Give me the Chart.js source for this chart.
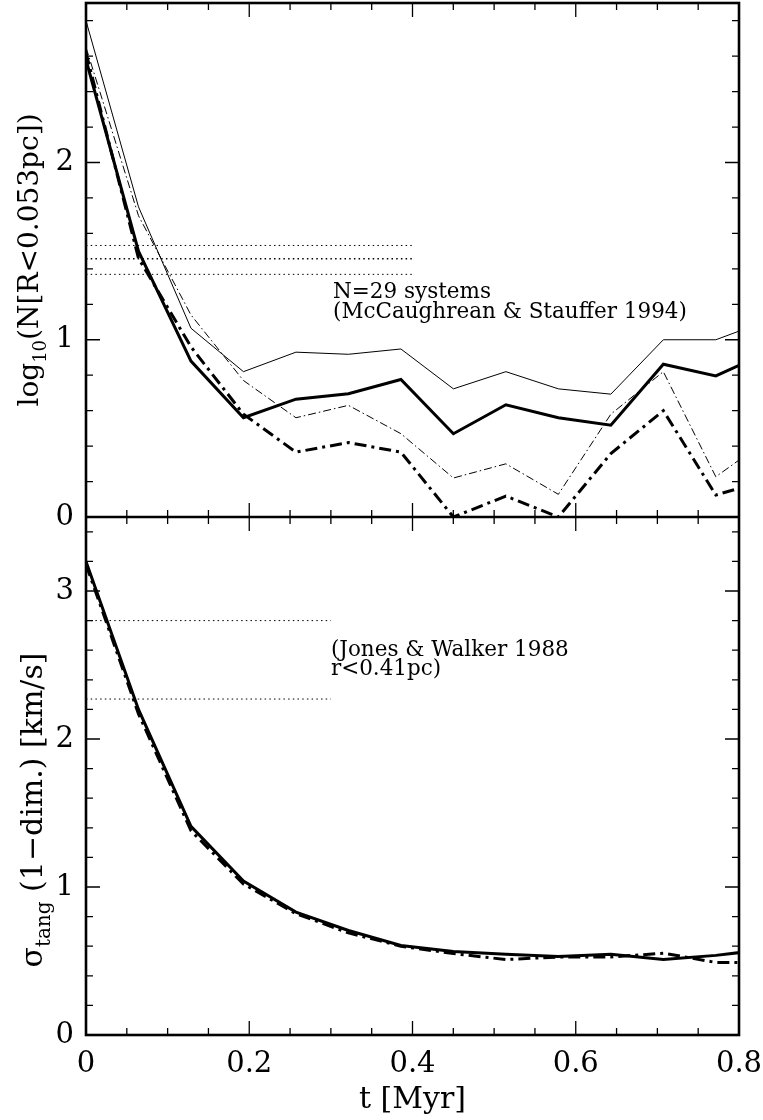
<!DOCTYPE html>
<html>
<head>
<meta charset="utf-8">
<script src="https://cdn.jsdelivr.net/npm/chart.js@4.4.1/dist/chart.umd.min.js"></script>
<style>
  html, body { margin: 0; padding: 0; background: #fff; }
  #wrap { width: 763px; height: 1120px; position: relative; }
</style>
</head>
<body>
<div id="wrap"><canvas id="chart" width="763" height="1120"></canvas></div>
<script>
// snapshot times [Myr]
const times = [0, 0.0643, 0.1286, 0.1929, 0.2572, 0.3215, 0.3858, 0.4501, 0.5144, 0.5787, 0.643, 0.7073, 0.7716, 0.8359];

// top panel: log10 N[R<0.053pc]
const nThin      = [2.80, 1.75, 1.065, 0.82, 0.93, 0.918, 0.948, 0.723, 0.82, 0.723, 0.693, 1.00, 1.00, 1.11];
const nThick     = [2.58, 1.50, 0.88, 0.56, 0.665, 0.695, 0.776, 0.47, 0.633, 0.56, 0.518, 0.862, 0.796, 0.93];
const nThinDash  = [2.65, 1.70, 1.14, 0.77, 0.56, 0.63, 0.47, 0.22, 0.30, 0.128, 0.58, 0.82, 0.227, 0.44];
const nThickDash = [2.62, 1.46, 0.96, 0.58, 0.366, 0.42, 0.366, 0.0, 0.118, 0.0, 0.358, 0.60, 0.124, 0.21];

// bottom panel: sigma_tang [km/s]
const sigSolid = [3.20, 2.20, 1.41, 1.04, 0.83, 0.706, 0.605, 0.565, 0.545, 0.53, 0.545, 0.51, 0.538, 0.58];
const sigDash  = [3.18, 2.17, 1.38, 1.02, 0.82, 0.69, 0.60, 0.55, 0.51, 0.527, 0.527, 0.553, 0.49, 0.49];

// observed ranges (dotted)
const obsTop = [1.532, 1.457, 1.369];
const obsTopEnd = 0.4;
const obsBottom = [2.80, 2.27];
const obsBottomEnd = 0.3;

const xTicks = [0, 0.2, 0.4, 0.6, 0.8];

const serif = '"DejaVu Serif", serif';

function pts(ys) {
  return times.map((t, i) => ({ x: t, y: ys[i] }));
}
function line(ys, axis, width, dash) {
  return {
    data: pts(ys), yAxisID: axis, borderColor: '#000', borderWidth: width,
    borderDash: dash, pointRadius: 0, tension: 0, fill: false
  };
}
function dotted(y, end, axis, width) {
  return {
    data: [{ x: 0, y: y }, { x: end, y: y }], yAxisID: axis, borderColor: '#000',
    borderWidth: width, borderDash: [1.5, 3.2], pointRadius: 0, fill: false
  };
}

const datasets = [
  line(nThin, 'yt', 1, []),
  line(nThick, 'yt', 3, []),
  line(nThinDash, 'yt', 1, [8, 3, 1.5, 3]),
  line(nThickDash, 'yt', 3, [12, 5, 3, 5]),
  dotted(obsTop[0], obsTopEnd, 'yt', 1),
  dotted(obsTop[1], obsTopEnd, 'yt', 1.6),
  dotted(obsTop[2], obsTopEnd, 'yt', 1),
  line(sigSolid, 'yb', 3, []),
  line(sigDash, 'yb', 3, [12, 5, 3, 5]),
  dotted(obsBottom[0], obsBottomEnd, 'yb', 1),
  dotted(obsBottom[1], obsBottomEnd, 'yb', 1)
];

// frame with inward ticks on all sides
const frame = {
  id: 'frame',
  afterDatasetsDraw(chart) {
    const { ctx, chartArea: a, scales } = chart;
    const x = scales.x, yt = scales.yt, yb = scales.yb;
    const mid = yt.bottom;
    ctx.save();
    ctx.strokeStyle = '#000';
    ctx.lineWidth = 1.3;
    ctx.beginPath();
    for (const s of [yt, yb]) {
      for (let i = 0; i * 0.2 <= s.max + 1e-9; i++) {
        const v = i * 0.2;
        const len = Math.abs(v - Math.round(v)) < 1e-9 ? 14 : 7;
        const py = s.getPixelForValue(v);
        ctx.moveTo(a.left, py); ctx.lineTo(a.left + len, py);
        ctx.moveTo(a.right, py); ctx.lineTo(a.right - len, py);
      }
    }
    for (let i = 0; i <= 16; i++) {
      const px = x.getPixelForValue(i * 0.05);
      const len = i % 4 === 0 ? 14 : 7;
      ctx.moveTo(px, a.top); ctx.lineTo(px, a.top + len);
      ctx.moveTo(px, mid - len); ctx.lineTo(px, mid + len);
      ctx.moveTo(px, a.bottom); ctx.lineTo(px, a.bottom - len);
    }
    ctx.stroke();
    ctx.lineWidth = 2.6;
    ctx.strokeRect(a.left, a.top, a.right - a.left, a.bottom - a.top);
    ctx.beginPath();
    ctx.moveTo(a.left, mid); ctx.lineTo(a.right, mid);
    ctx.stroke();
    ctx.restore();
  }
};

// rotated title with a subscript part
function vTitle(ctx, parts, bx, cy, size) {
  ctx.save();
  ctx.translate(bx, cy);
  ctx.rotate(-Math.PI / 2);
  ctx.textBaseline = 'alphabetic';
  ctx.textAlign = 'left';
  let total = 0;
  for (const p of parts) {
    ctx.font = (p.sub ? Math.round(size * 0.65) : size) + 'px ' + serif;
    p.w = ctx.measureText(p.t).width;
    total += p.w;
  }
  let px = -total / 2;
  for (const p of parts) {
    ctx.font = (p.sub ? Math.round(size * 0.65) : size) + 'px ' + serif;
    ctx.fillText(p.t, px, p.sub ? 8 : 0);
    px += p.w;
  }
  ctx.restore();
}

const labels = {
  id: 'labels',
  afterDraw(chart) {
    const { ctx, scales } = chart;
    const x = scales.x, yt = scales.yt, yb = scales.yb;
    ctx.save();
    ctx.fillStyle = '#000';
    ctx.font = '21.5px ' + serif;
    ctx.textAlign = 'left';
    ctx.textBaseline = 'alphabetic';
    const ax = x.getPixelForValue(0.3026);
    ctx.fillText('N=29 systems', ax, yt.getPixelForValue(1.234));
    ctx.fillText('(McCaughrean & Stauffer 1994)', ax, yt.getPixelForValue(1.121));
    const bx = x.getPixelForValue(0.3);
    ctx.fillText('(Jones & Walker 1988', bx, yb.getPixelForValue(2.56));
    ctx.fillText('r<0.41pc)', bx, yb.getPixelForValue(2.43));

    vTitle(ctx, [{ t: 'log' }, { t: '10', sub: true }, { t: '(N[R<0.053pc])' }], 38, 260, 28);
    vTitle(ctx, [{ t: 'σ' }, { t: 'tang', sub: true }, { t: ' (1−dim.) [km/s]' }], 42, 810, 30);

    ctx.font = '30px ' + serif;
    ctx.textAlign = 'center';
    ctx.fillText('t [Myr]', (chart.chartArea.left + chart.chartArea.right) / 2, 1108);
    ctx.restore();
  }
};

const tickFont = { family: serif, size: 29 };

function yScale(max, weight) {
  return {
    type: 'linear', position: 'left', stack: 'panels', stackWeight: weight,
    min: 0, max: max,
    grid: { display: false, drawTicks: false },
    border: { display: false },
    ticks: { stepSize: 1, includeBounds: false, font: tickFont, color: '#000', padding: 12 },
    afterFit: s => {
      s.width = 86;
      s.paddingTop = 0;
      s.paddingBottom = 0;
    }
  };
}

new Chart(document.getElementById('chart'), {
  type: 'line',
  data: { datasets: datasets },
  options: {
    responsive: false,
    animation: false,
    devicePixelRatio: 1,
    layout: { padding: { top: 3, right: 24, left: 0, bottom: 0 } },
    plugins: { legend: { display: false }, tooltip: { enabled: false } },
    scales: {
      x: {
        type: 'linear', min: 0, max: 0.8,
        grid: { display: false, drawTicks: false },
        border: { display: false },
        afterBuildTicks: s => { s.ticks = xTicks.map(v => ({ value: v })); },
        ticks: {
          font: tickFont, color: '#000', padding: 12, maxRotation: 0, autoSkip: false,
          callback: v => (v === 0 ? '0' : v.toFixed(1))
        },
        afterFit: s => {
          s.height = 85;
          s.paddingLeft = 0;
          s.paddingRight = 0;
        }
      },
      yb: yScale(3.5, 518),
      yt: yScale(2.9, 514)
    }
  },
  plugins: [frame, labels]
});
</script>
</body>
</html>
